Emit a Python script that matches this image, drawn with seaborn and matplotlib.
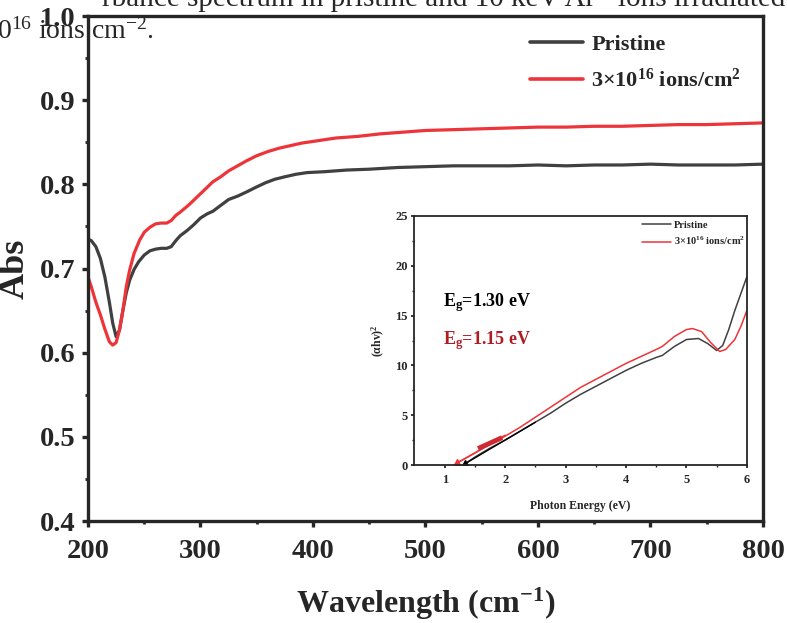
import numpy as np
import pandas as pd
import matplotlib
matplotlib.use("Agg")
import matplotlib.pyplot as plt
import seaborn as sns
from matplotlib.lines import Line2D

# ---------------- data ----------------
wl_pristine = [200, 203, 207, 211, 215, 219, 222, 225, 228, 231, 234, 237, 241, 245, 250, 255, 260, 265,
               270, 274, 278, 282, 288, 294, 300, 306, 311, 318, 325, 333, 341, 350, 358, 366, 375, 385,
               395, 410, 430, 450, 475, 500, 525, 550, 575, 600, 625, 650, 675, 700, 725, 750, 775, 800]
abs_pristine = [0.735, 0.733, 0.726, 0.712, 0.690, 0.660, 0.635, 0.619, 0.627, 0.650, 0.671, 0.686, 0.699,
                0.708, 0.716, 0.721, 0.723, 0.724, 0.724, 0.726, 0.733, 0.739, 0.745, 0.752, 0.760, 0.765,
                0.768, 0.775, 0.782, 0.786, 0.791, 0.797, 0.802, 0.806, 0.809, 0.812, 0.814, 0.815, 0.817,
                0.818, 0.820, 0.821, 0.822, 0.822, 0.822, 0.823, 0.822, 0.823, 0.823, 0.824, 0.823, 0.823,
                0.823, 0.824]

wl_irr = [200, 203, 207, 211, 215, 219, 222, 225, 228, 231, 234, 237, 241, 246, 250, 255, 260, 265, 270,
          274, 278, 282, 290, 297, 304, 311, 318, 325, 333, 341, 350, 360, 370, 380, 390, 400, 420, 440,
          460, 480, 500, 525, 550, 575, 600, 625, 650, 675, 700, 725, 750, 775, 800]
abs_irr = [0.690, 0.678, 0.660, 0.645, 0.628, 0.613, 0.609, 0.612, 0.627, 0.650, 0.678, 0.698, 0.718,
           0.734, 0.743, 0.749, 0.753, 0.754, 0.754, 0.757, 0.763, 0.767, 0.776, 0.785, 0.794, 0.803,
           0.809, 0.816, 0.822, 0.828, 0.834, 0.839, 0.843, 0.846, 0.849, 0.851, 0.855, 0.857, 0.860,
           0.862, 0.864, 0.865, 0.866, 0.867, 0.868, 0.868, 0.869, 0.869, 0.870, 0.871, 0.871, 0.872,
           0.873]

e_pristine = [1.33, 1.5, 1.75, 2.0, 2.25, 2.5, 2.75, 3.0, 3.25, 3.5, 3.75, 4.0, 4.25, 4.5, 4.6, 4.8, 5.0,
              5.2, 5.35, 5.5, 5.6, 5.7, 5.8, 5.9, 6.0]
tauc_pristine = [0.1, 0.8, 1.7, 2.5, 3.4, 4.3, 5.2, 6.2, 7.1, 7.9, 8.7, 9.5, 10.2, 10.8, 11.0, 11.9, 12.6,
                 12.7, 12.2, 11.5, 12.0, 13.6, 15.5, 17.2, 18.9]
e_irr = [1.2, 1.5, 1.75, 2.0, 2.25, 2.5, 2.75, 3.0, 3.25, 3.5, 3.75, 4.0, 4.25, 4.5, 4.6, 4.8, 5.0, 5.1,
         5.25, 5.4, 5.55, 5.65, 5.8, 5.9, 6.0]
tauc_irr = [0.2, 1.2, 2.1, 2.9, 3.8, 4.8, 5.8, 6.8, 7.8, 8.6, 9.4, 10.2, 10.9, 11.6, 11.9, 12.9, 13.6, 13.7,
            13.4, 12.3, 11.4, 11.6, 12.6, 13.9, 15.5]

fit_pristine_e = [1.30, 2.5]
fit_pristine_y = [0.0, 4.3]
fit_irr_e = [1.15, 2.0]
fit_irr_y = [0.0, 3.0]
fit_irr_thick_e = [1.55, 1.95]
fit_irr_thick_y = [1.65, 2.75]

labels = ["Pristine", r"3×10$^{\mathbf{16}}$ ions/cm$^{\mathbf{2}}$"]
GRAY = "#404040"
RED = "#ec3439"
DARKRED = "#b01c22"

# ---------------- style ----------------
sns.set_style("ticks")
plt.rcParams["font.family"] = ["Liberation Serif", "DejaVu Serif"]
plt.rcParams["mathtext.fontset"] = "custom"
plt.rcParams["mathtext.rm"] = "Liberation Serif"
plt.rcParams["mathtext.bf"] = "Liberation Serif:bold"
plt.rcParams["mathtext.it"] = "Liberation Serif:italic"

fig = plt.figure(figsize=(7.87, 6.23), dpi=100)
ax = fig.add_axes([0.1118, 0.1637, 0.9695 - 0.1118, 0.9743 - 0.1637])

df_main = pd.concat([
    pd.DataFrame({"wl": wl_pristine, "abs": abs_pristine, "s": labels[0]}),
    pd.DataFrame({"wl": wl_irr, "abs": abs_irr, "s": labels[1]}),
])
sns.lineplot(data=df_main, x="wl", y="abs", hue="s", palette=[GRAY, RED], lw=2.3, ax=ax,
             estimator=None, sort=False, legend=False)

ax.set_xlim(200, 800)
ax.set_ylim(0.4, 1.0)
ax.set_xticks(np.arange(200, 801, 100))
ax.set_yticks(np.arange(0.4, 1.01, 0.1))
ax.set_xticks(np.arange(250, 800, 100), minor=True)
ax.set_yticks(np.arange(0.45, 1.0, 0.1), minor=True)
ax.set_yticklabels([f"{v:.1f}" for v in np.arange(0.4, 1.01, 0.1)])
for sp in ax.spines.values():
    sp.set_linewidth(2.4)
    sp.set_visible(True)
ax.tick_params(axis="both", which="major", direction="out", length=4, width=2.4, labelsize=20.5, pad=5)
ax.tick_params(axis="x", which="major", pad=9)
ax.tick_params(axis="both", which="minor", direction="out", length=2.5, width=2.0)
for t in ax.get_xticklabels() + ax.get_yticklabels():
    t.set_fontweight("bold")
ax.set_xlabel(r"Wavelength (cm$^{\mathbf{-1}}$)", fontsize=23, fontweight="bold", labelpad=16)
ax.set_ylabel("Abs", fontsize=26, fontweight="bold")
ax.yaxis.set_label_coords(-0.083, 0.5)

handles = [Line2D([], [], color=GRAY, lw=2.6), Line2D([], [], color=RED, lw=2.6)]
ax.legend(handles, labels, loc="upper left", bbox_to_anchor=(0.655, 0.963), frameon=False,
          prop={"family": "Liberation Serif", "weight": "bold", "size": 16},
          handlelength=2.4, handletextpad=0.35, labelspacing=0.62, borderpad=0, borderaxespad=0)

# ---------------- inset ----------------
ins = fig.add_axes([0.526, 0.2536, 0.949 - 0.526, 0.6533 - 0.2536])
df_ins = pd.concat([
    pd.DataFrame({"e": e_pristine, "t": tauc_pristine, "s": labels[0]}),
    pd.DataFrame({"e": e_irr, "t": tauc_irr, "s": labels[1]}),
])
sns.lineplot(data=df_ins, x="e", y="t", hue="s", palette=[GRAY, RED], lw=1.1, ax=ins,
             estimator=None, sort=False, legend=False)
ins.plot(fit_pristine_e, fit_pristine_y, color="black", lw=1.0)
ins.plot(fit_irr_e, fit_irr_y, color=RED, lw=1.0)
ins.plot(fit_irr_thick_e, fit_irr_thick_y, color="#d02a30", lw=3.5, solid_capstyle="butt")
ins.plot([fit_pristine_e[0] + 0.04], [0.25], marker="^", ms=4, color="black")
ins.plot([fit_irr_e[0] + 0.06], [0.3], marker="^", ms=4, color=RED)

ins.set_xlim(0.49, 6)
ins.set_ylim(0, 25)
ins.set_xticks([1, 2, 3, 4, 5, 6])
ins.set_xticks([1.5, 2.5, 3.5, 4.5, 5.5], minor=True)
ins.set_yticks([0, 5, 10, 15, 20, 25])
ins.set_yticks([2.5, 7.5, 12.5, 17.5, 22.5], minor=True)
for sp in ins.spines.values():
    sp.set_linewidth(1.3)
    sp.set_visible(True)
ins.tick_params(axis="both", which="major", direction="out", length=2.5, width=1.3, labelsize=9, pad=2)
ins.tick_params(axis="x", which="major", pad=4)
ins.tick_params(axis="both", which="minor", direction="out", length=1.5, width=1.0)
for t in ins.get_xticklabels() + ins.get_yticklabels():
    t.set_fontweight("bold")
ins.set_xlabel("Photon Energy (eV)", fontsize=8.5, fontweight="bold", labelpad=10)
ins.set_ylabel(r"(αhv)$^{\mathbf{2}}$", fontsize=8.5, fontweight="bold", labelpad=6)
ins_handles = [Line2D([], [], color=GRAY, lw=1.1), Line2D([], [], color=RED, lw=1.1)]
ins.legend(ins_handles, labels, loc="upper right", bbox_to_anchor=(1.0, 0.99), frameon=False,
           prop={"family": "Liberation Serif", "weight": "bold", "size": 7.5},
           handlelength=2.7, handletextpad=0.3, labelspacing=0.5, borderpad=0.2, borderaxespad=0)
ins.text(0.97, 16.3, r"E$_{\mathbf{g}}$=1.30 eV", fontsize=13, fontweight="bold", color="black", va="center")
ins.text(0.97, 12.5, r"E$_{\mathbf{g}}$=1.15 eV", fontsize=13, fontweight="bold", color=DARKRED, va="center")

# ---------------- caption remnants ----------------
fig.text(0.998, 1 - 6 / 623, "rbance spectrum in pristine and 10 keV Ar⁺ ions irradiated",
         ha="right", va="baseline", fontsize=21, family=["Liberation Serif", "DejaVu Serif"])
fig.text(-0.004, 1 - 39 / 623, r"0$^{16}$ ions.cm$^{-2}$.", ha="left", va="baseline", fontsize=20,
         family=["Liberation Serif", "DejaVu Serif"])

fig.savefig("out.png", dpi=100)
